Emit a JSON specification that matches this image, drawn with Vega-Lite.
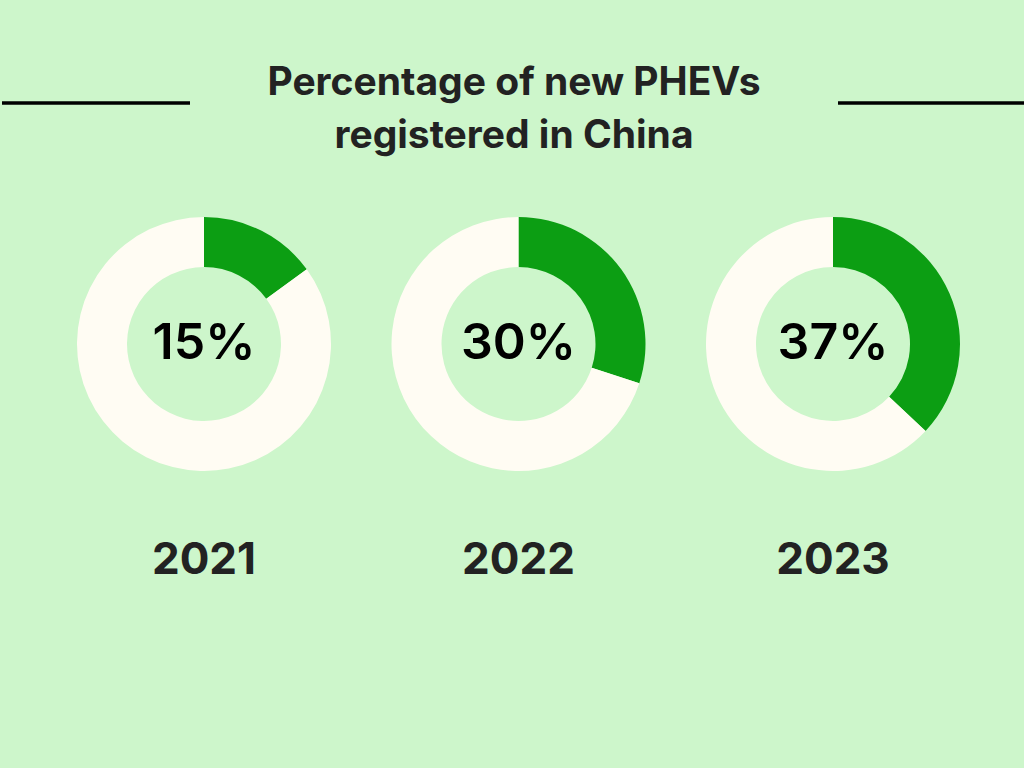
{
  "$schema": "https://vega.github.io/schema/vega-lite/v6.json",
  "autosize": {"type": "fit", "contains": "padding"},
  "width": 1024,
  "height": 768,
  "padding": 0,
  "background": "#CDF6CB",
  "config": {"view": {"stroke": null}},
  "datasets": {
    "arcs": [
      {"year": "2021", "part": "PHEV", "start": 0, "end": 15},
      {"year": "2021", "part": "Other", "start": 15, "end": 100},
      {"year": "2022", "part": "PHEV", "start": 0, "end": 30},
      {"year": "2022", "part": "Other", "start": 30, "end": 100},
      {"year": "2023", "part": "PHEV", "start": 0, "end": 37},
      {"year": "2023", "part": "Other", "start": 37, "end": 100}
    ],
    "labels": [
      {"year": "2021", "pct": 15, "label": "15%"},
      {"year": "2022", "pct": 30, "label": "30%"},
      {"year": "2023", "pct": 37, "label": "37%"}
    ],
    "titles": [{"title": "Percentage of new PHEVs registered in China"}]
  },
  "layer": [
    {
      "data": {"name": "titles"},
      "mark": {"type": "text", "font": "Inter", "fontSize": 39, "fontWeight": 700, "color": "#222222", "align": "center", "baseline": "alphabetic", "lineHeight": 53},
      "encoding": {
        "x": {"value": 512},
        "y": {"value": 95},
        "text": {"value": ["Percentage of new PHEVs", "registered in China"]}
      }
    },
    {
      "data": {"name": "arcs"},
      "mark": {"type": "arc", "radius": 127, "radius2": 77},
      "encoding": {
        "x": {"field": "year", "type": "nominal", "scale": {"type": "point", "range": [202, 831], "padding": 0}, "axis": null},
        "y": {"value": 344},
        "theta": {"field": "start", "type": "quantitative", "stack": false, "scale": {"domain": [0, 100]}},
        "theta2": {"field": "end"},
        "color": {"field": "part", "type": "nominal", "scale": {"domain": ["PHEV", "Other"], "range": ["#0C9E13", "#FFFCF3"]}, "legend": null}
      }
    },
    {
      "data": {"name": "labels"},
      "mark": {"type": "text", "font": "Inter", "fontSize": 50, "fontWeight": 600, "color": "#000000", "align": "center", "baseline": "middle"},
      "encoding": {
        "x": {"field": "year", "type": "nominal", "scale": {"type": "point", "range": [202, 831], "padding": 0}, "axis": null},
        "y": {"value": 344},
        "text": {"field": "label", "type": "nominal"}
      }
    },
    {
      "data": {"name": "labels"},
      "mark": {"type": "text", "font": "Inter", "fontSize": 44, "fontWeight": 700, "color": "#222222", "align": "center", "baseline": "middle"},
      "encoding": {
        "x": {"field": "year", "type": "nominal", "scale": {"type": "point", "range": [202, 831], "padding": 0}, "axis": null},
        "y": {"value": 561},
        "text": {"field": "year", "type": "nominal"}
      }
    },
    {
      "data": {"name": "titles"},
      "mark": {"type": "rule", "color": "#000000", "strokeWidth": 3.5},
      "encoding": {"x": {"value": 0}, "x2": {"value": 188}, "y": {"value": 103}}
    },
    {
      "data": {"name": "titles"},
      "mark": {"type": "rule", "color": "#000000", "strokeWidth": 3.5},
      "encoding": {"x": {"value": 836}, "x2": {"value": 1024}, "y": {"value": 103}}
    }
  ]
}
